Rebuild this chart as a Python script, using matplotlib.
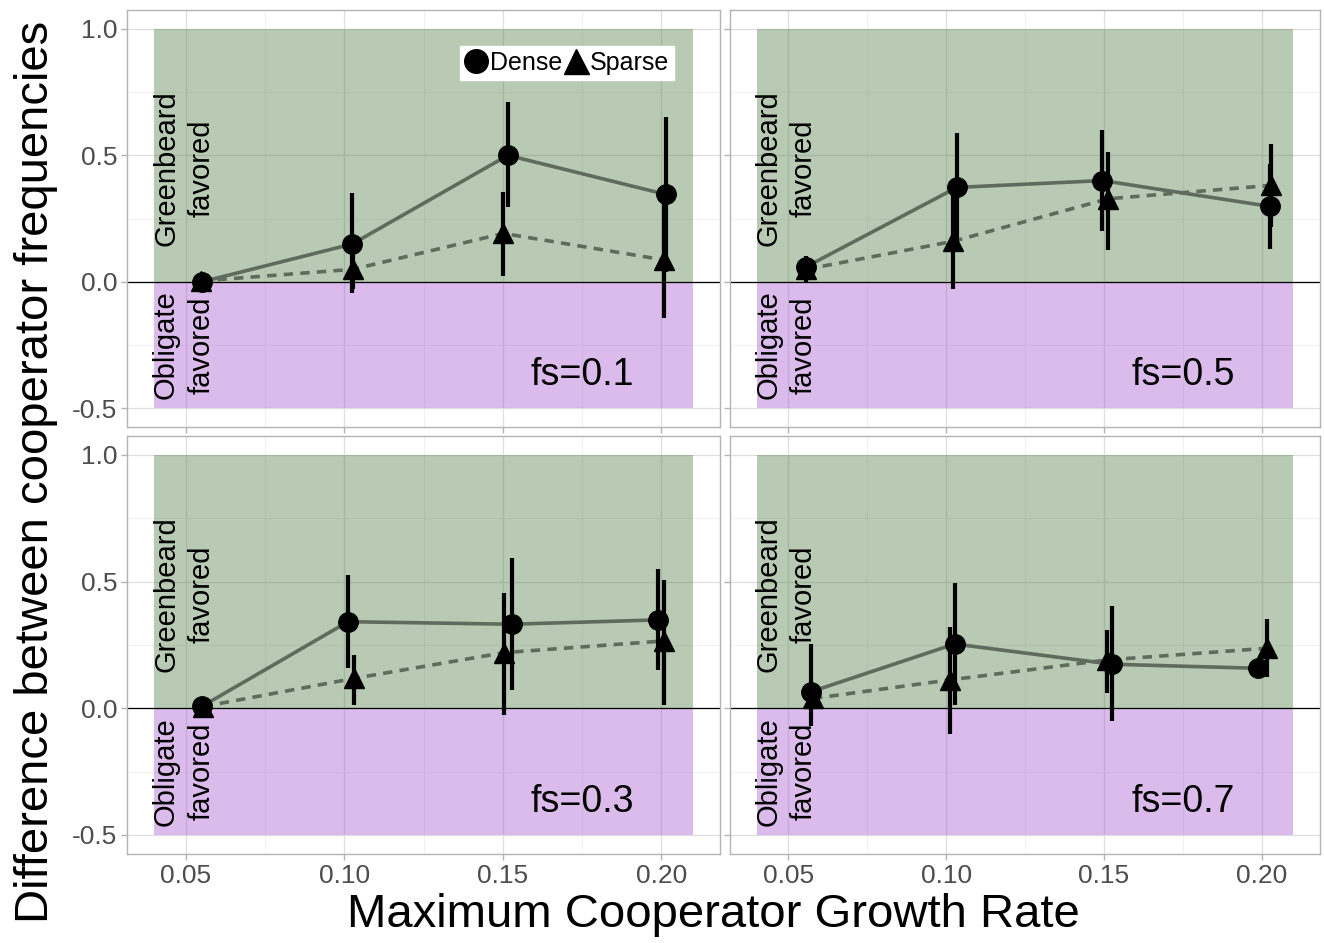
import numpy as np
import matplotlib
matplotlib.use('Agg')
import matplotlib.pyplot as plt
from matplotlib.lines import Line2D

plt.rcParams['font.family'] = ['Liberation Sans', 'DejaVu Sans']

# panel order: top-left, top-right, bottom-left, bottom-right
fs_labels = ['fs=0.1', 'fs=0.5', 'fs=0.3', 'fs=0.7']

dense_x = [[0.0553, 0.1025, 0.1516, 0.2015],
           [0.0555, 0.1034, 0.1495, 0.2026],
           [0.0553, 0.1012, 0.1528, 0.1988],
           [0.0573, 0.1027, 0.1527, 0.1990]]
dense_y = [[0.000, 0.149, 0.500, 0.345],
           [0.058, 0.373, 0.400, 0.298],
           [0.009, 0.342, 0.332, 0.349],
           [0.066, 0.254, 0.174, 0.158]]
dense_lo = [[-0.010, -0.046, 0.296, 0.040],
            [0.020, 0.160, 0.202, 0.131],
            [0.000, 0.158, 0.072, 0.151],
            [-0.070, 0.013, -0.049, 0.140]]
dense_hi = [[0.010, 0.349, 0.711, 0.651],
            [0.100, 0.589, 0.600, 0.465],
            [0.020, 0.526, 0.592, 0.549],
            [0.253, 0.493, 0.405, 0.176]]

sparse_x = [[0.0548, 0.1028, 0.1502, 0.2009],
            [0.0557, 0.1023, 0.1513, 0.2029],
            [0.0556, 0.1030, 0.1505, 0.2008],
            [0.0578, 0.1011, 0.1510, 0.2016]]
sparse_y = [[0.003, 0.049, 0.191, 0.086],
            [0.049, 0.160, 0.328, 0.381],
            [0.007, 0.118, 0.220, 0.266],
            [0.039, 0.112, 0.191, 0.237]]
sparse_lo = [[-0.005, -0.030, 0.022, -0.145],
             [0.000, -0.030, 0.127, 0.217],
             [0.000, 0.013, -0.026, 0.013],
             [0.000, -0.101, 0.059, 0.122]]
sparse_hi = [[0.010, 0.130, 0.355, 0.317],
             [0.090, 0.350, 0.514, 0.545],
             [0.015, 0.211, 0.457, 0.507],
             [0.080, 0.322, 0.309, 0.351]]

x_ticks = [0.05, 0.10, 0.15, 0.20]
y_ticks = [-0.5, 0.0, 0.5, 1.0]

green = (78/255, 122/255, 68/255)
purple = (165/255, 85/255, 205/255)
line_col = '#5f6b5c'
border = '#b3b3b3'

fig = plt.figure(figsize=(13.24, 9.43), dpi=100)

W, H = 1324, 943
boxes = [(127, 720, 10, 427), (730, 1320, 10, 427),
         (127, 720, 436, 854), (730, 1320, 436, 854)]

for i, (x0, x1, y0, y1) in enumerate(boxes):
    ax = fig.add_axes([x0 / W, 1 - y1 / H, (x1 - x0) / W, (y1 - y0) / H])
    ax.set_xlim(0.0315, 0.2185)
    ax.set_ylim(-0.575, 1.075)

    # grid
    ax.set_xticks(x_ticks)
    ax.set_yticks(y_ticks)
    ax.set_xticks([0.075, 0.125, 0.175], minor=True)
    ax.set_yticks([-0.25, 0.25, 0.75], minor=True)
    ax.grid(True, which='major', color='#dedede', lw=0.9, zorder=0)
    ax.grid(True, which='minor', color='#efefef', lw=0.6, zorder=0)
    ax.set_axisbelow(True)

    # shaded regions
    ax.fill_between([0.04, 0.21], 0, 1, color=green, alpha=0.4, lw=0, zorder=1)
    ax.fill_between([0.04, 0.21], -0.5, 0, color=purple, alpha=0.4, lw=0, zorder=1)
    ax.axhline(0, color='black', lw=0.9, zorder=2)

    ax.text(0.0438, 0.45, 'Greenbeard', rotation=90, ha='center', va='center', fontsize=21, zorder=3)
    ax.text(0.0549, 0.45, 'favored', rotation=90, ha='center', va='center', fontsize=21, zorder=3)
    ax.text(0.0438, -0.25, 'Obligate', rotation=90, ha='center', va='center', fontsize=21, zorder=3)
    ax.text(0.0549, -0.25, 'favored', rotation=90, ha='center', va='center', fontsize=21, zorder=3)
    ax.text(0.175, -0.37, fs_labels[i], ha='center', va='center', fontsize=27, zorder=3)

    # lines
    ax.plot(dense_x[i], dense_y[i], color=line_col, lw=2.6, zorder=4, solid_capstyle='butt')
    ax.plot(sparse_x[i], sparse_y[i], color=line_col, lw=2.6, zorder=4,
            linestyle=(0, (2.6, 2.0)))

    # error bars and points
    ax.vlines(dense_x[i], dense_lo[i], dense_hi[i], color='black', lw=3.0, zorder=5)
    ax.vlines(sparse_x[i], sparse_lo[i], sparse_hi[i], color='black', lw=3.0, zorder=5)
    ax.plot(dense_x[i], dense_y[i], 'o', color='black', ms=14, zorder=6)
    ax.plot(sparse_x[i], sparse_y[i], '^', color='black', ms=15, zorder=6)

    for s in ax.spines.values():
        s.set_color(border)
        s.set_linewidth(1.0)
    ax.tick_params(which='major', direction='out', length=4, color=border, width=1.0,
                   labelsize=19, labelcolor='#4d4d4d', pad=3)
    ax.tick_params(which='minor', length=0)
    ax.set_xticklabels(['0.05', '0.10', '0.15', '0.20'])
    ax.set_yticklabels(['-0.5', '0.0', '0.5', '1.0'])
    if i in (0, 1):
        ax.tick_params(labelbottom=False)
    if i in (1, 3):
        ax.tick_params(labelleft=False)

    if i == 0:
        handles = [Line2D([], [], marker='o', color='black', ls='', ms=17),
                   Line2D([], [], marker='^', color='black', ls='', ms=18)]
        leg = ax.legend(handles, ['Dense', 'Sparse'], ncol=2, loc='center',
                        bbox_to_anchor=(0.742, 0.873), fontsize=18,
                        frameon=True, fancybox=False, handlelength=0.9,
                        handletextpad=0.1, columnspacing=0.1, borderpad=0.2,
                        borderaxespad=0)
        leg.get_frame().set_facecolor('white')
        leg.get_frame().set_edgecolor('white')
        leg.get_frame().set_alpha(1)
        leg.set_zorder(10)

fig.text(0.027, 0.5, 'Difference between cooperator frequencies', rotation=90,
         ha='center', va='center', fontsize=34)
fig.text(0.5385, 0.03, 'Maximum Cooperator Growth Rate', ha='center', va='center', fontsize=34)

fig.savefig('out.png', dpi=100)
